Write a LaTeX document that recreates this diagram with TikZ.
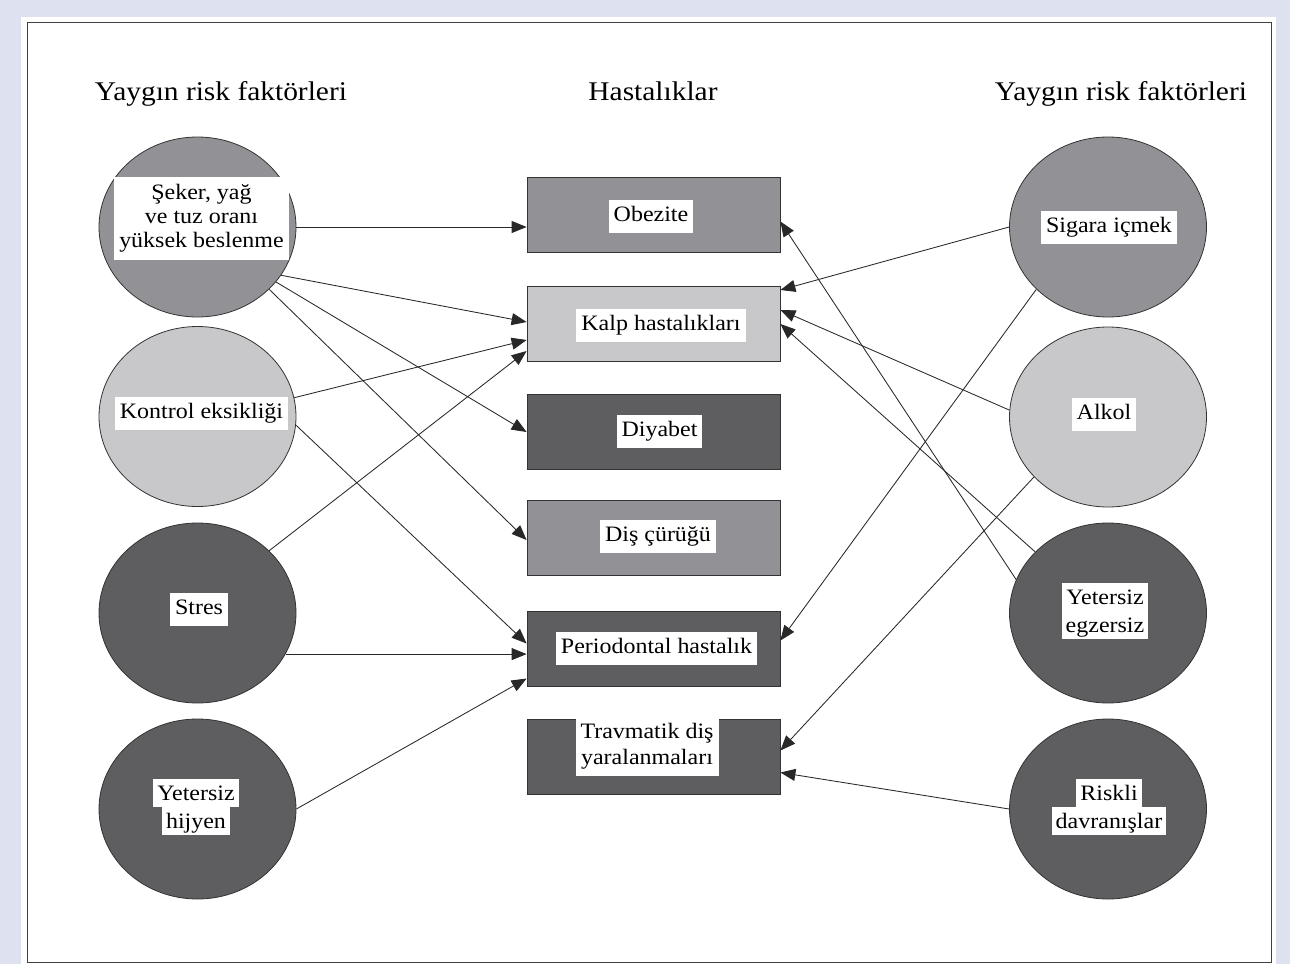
\documentclass[tikz,border=0pt]{standalone}
\usepackage{fontspec}
\setmainfont{Liberation Serif}[FakeStretch=1.09]
\usetikzlibrary{shapes.geometric,arrows.meta,calc}

\definecolor{bgblue}{RGB}{221,225,240}
\definecolor{greyL}{RGB}{200,200,202}
\definecolor{greyM}{RGB}{146,146,150}
\definecolor{greyD}{RGB}{94,94,96}
\definecolor{linkgrey}{RGB}{40,40,40}

\newcommand{\lab}{\fontsize{22}{27}\selectfont}
% one white strip per line
\newcommand{\wl}[1]{{\setlength{\fboxsep}{0pt}\colorbox{white}{\hspace{4pt}\rule[-7pt]{0pt}{28pt}#1\hspace{4pt}}}}

\tikzset{
	risk/.style={ellipse, draw=black!80, line width=0.8pt, minimum width=197pt, minimum height=180pt, inner sep=0pt},
	ill/.style={rectangle, draw=black!80, line width=0.8pt, minimum width=253pt, minimum height=75pt, inner sep=0pt},
	tag/.style={fill=white, inner xsep=5pt, inner ysep=6pt, text height=16pt, text depth=5pt, font=\lab},
	tagblock/.style={fill=white, inner xsep=5pt, align=center},
	taglines/.style={inner sep=0pt, align=center, font=\fontsize{22}{28}\selectfont},
	head/.style={font=\fontsize{27}{32}\selectfont, anchor=base},
	link/.style={draw=linkgrey, line width=0.85pt, -{Triangle[length=15pt,width=12pt]}},
}

\begin{document}
\begin{tikzpicture}[x=1pt,y=-1pt]
	\useasboundingbox (0,0) rectangle (1290,964);
	\fill[bgblue] (0,0) rectangle (1290,964);
	\fill[white] (21,17) rectangle (1276,964);
	\draw[black!75, line width=0.8pt] (27,22) rectangle (1271,962);

	\node[head] (headL) at (221,100) {Yaygın risk faktörleri};
	\node[head] (headM) at (653,100) {Hastalıklar};
	\node[head] (headR) at (1121,100) {Yaygın risk faktörleri};

	% left column
	\node[risk, fill=greyM] (seker) at (197.5,227) {};
	\node[risk, fill=greyL] (kontrol) at (197.5,416.5) {};
	\node[risk, fill=greyD] (stres) at (197.5,613) {};
	\node[risk, fill=greyD] (hijyen) at (197.5,809) {};
	% right column
	\node[risk, fill=greyM] (sigara) at (1108,227) {};
	\node[risk, fill=greyL] (alkol) at (1108,417) {};
	\node[risk, fill=greyD] (egzersiz) at (1108,613) {};
	\node[risk, fill=greyD] (riskli) at (1108,809) {};
	% diseases
	\node[ill, fill=greyM] (obez) at (653.5,214.5) {};
	\node[ill, fill=greyL] (kalp) at (653.5,324) {};
	\node[ill, fill=greyD] (diyabet) at (653.5,432) {};
	\node[ill, fill=greyM] (dis) at (653.5,537.5) {};
	\node[ill, fill=greyD] (perio) at (653.5,648.5) {};
	\node[ill, fill=greyD] (travma) at (653.5,756.5) {};

	% texts
	\node[tagblock, inner ysep=7pt, font=\fontsize{22}{24}\selectfont] (sekerT) at (201.5,218.5) {Şeker, yağ\\ve tuz oranı\\yüksek beslenme};
	\node[tag] (kontrolT) at (201.5,413) {Kontrol eksikliği};
	\node[tag] (stresT) at (199,609) {Stres};
	\node[taglines] (hijyenT) at (196,807) {\wl{Yetersiz}\\\wl{hijyen}};
	\node[tag] (sigaraT) at (1109,227) {Sigara içmek};
	\node[tag] (alkolT) at (1104,414) {Alkol};
	\node[taglines] (egzersizT) at (1105,611) {\wl{Yetersiz}\\\wl{egzersiz}};
	\node[taglines] (riskliT) at (1109,807) {\wl{Riskli}\\\wl{davranışlar}};
	\node[tag] (obezT) at (651,216) {Obezite};
	\node[tag] (kalpT) at (661,325) {Kalp hastalıkları};
	\node[tag] (diyabetT) at (659.5,431) {Diyabet};
	\node[tag] (disT) at (658,536) {Diş çürüğü};
	\node[tag] (perioT) at (656.5,648) {Periodontal hastalık};
	\node[tagblock, inner ysep=6pt, font=\fontsize{22}{26}\selectfont] (travmaT) at (647,746.5) {Travmatik diş\\yaralanmaları};

	% left arrows
	\draw[link] (seker.east) -- (seker.east -| obez.west);
	\draw[link] (seker.-30) -- ([yshift=2pt]kalp.west);
	\draw[link] (seker.-35) -- (diyabet.west);
	\draw[link] (seker.-41) -- ([yshift=-2.5pt]dis.west);
	\draw[link] (kontrol.11) -- ([yshift=-16pt]kalp.west);
	\draw[link] (kontrol.-5) -- ([yshift=5pt]perio.west);
	\draw[link] (stres.41) -- ([yshift=-27pt]kalp.west);
	\draw[link] (stres.-25) -- (stres.-25 -| perio.west);
	\draw[link] (hijyen.east) -- ([yshift=-30pt]perio.west);
	% right arrows
	\draw[link] (sigara.west) -- ([yshift=34pt]kalp.east);
	\draw[link] (sigara.221) -- ([yshift=8pt]perio.east);
	\draw[link] (alkol.176) -- ([yshift=14pt]kalp.east);
	\draw[link] (alkol.219) -- ([yshift=6pt]travma.east);
	\draw[link] (egzersiz.160) -- ([yshift=-7pt]obez.east);
	\draw[link] (egzersiz.140) -- (kalp.east);
	\draw[link] (riskli.west) -- ([yshift=-16pt]travma.east);
\end{tikzpicture}
\end{document}
